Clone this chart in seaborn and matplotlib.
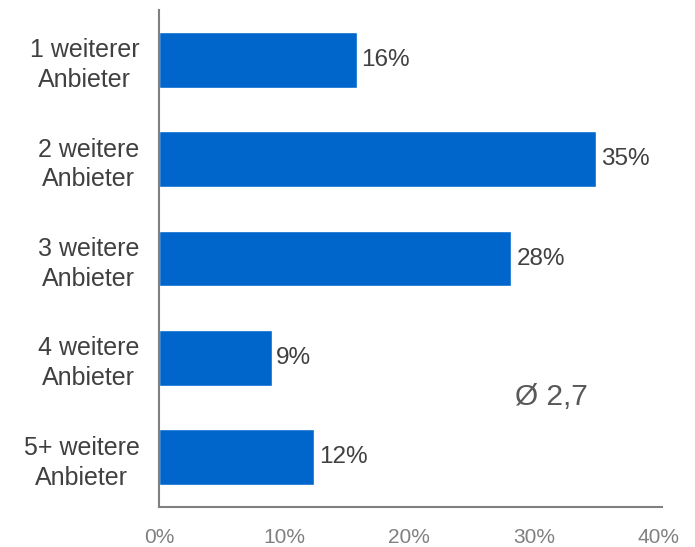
import pandas as pd
import matplotlib.pyplot as plt
import seaborn as sns

# Daten
categories = ['1 weiterer\nAnbieter', '2 weitere\nAnbieter', '3 weitere\nAnbieter',
              '4 weitere\nAnbieter', '5+ weitere\nAnbieter']
shares = [15.8, 35.0, 28.2, 9.0, 12.4]
share_labels = ['16%', '35%', '28%', '9%', '12%']
x_ticks = [0, 10, 20, 30, 40]
x_tick_labels = ['0%', '10%', '20%', '30%', '40%']
average_text = 'Ø 2,7'

df = pd.DataFrame({'Anbieter': categories, 'Anteil': shares})

sns.set_style('white')
plt.rcParams['font.family'] = ['Liberation Sans', 'DejaVu Sans']

fig = plt.figure(figsize=(6.95, 5.47), dpi=100)
ax = fig.add_axes([0.2288, 0.0731, 0.7237, 0.9086])

sns.barplot(data=df, x='Anteil', y='Anbieter', orient='h', color='#0066CC',
            saturation=1, width=0.56, ax=ax)

ax.set_xlim(0, 40.24)
ax.set_ylim(4.5, -0.5)
ax.set_xticks(x_ticks)
ax.set_xticklabels(x_tick_labels, fontsize=15, color='#808080')
ax.set_yticklabels(categories, fontsize=18, color='#404040',
                   multialignment='center', linespacing=1.3)
ax.tick_params(axis='x', length=0, pad=15)
ax.tick_params(axis='y', length=0, pad=14)
ax.set_xlabel('')
ax.set_ylabel('')

for side in ['top', 'right']:
    ax.spines[side].set_visible(False)
for side in ['left', 'bottom']:
    ax.spines[side].set_color('#808080')
    ax.spines[side].set_linewidth(1.5)

for i, (v, lab) in enumerate(zip(shares, share_labels)):
    ax.annotate(lab, xy=(v, i), xytext=(3.5, 0), textcoords='offset points',
                ha='left', va='center', fontsize=17.5, color='#404040')

ax.text(31.4, 3.39, average_text, ha='center', va='center', fontsize=21.5, color='#595959')

fig.savefig('out.png', dpi=100)
